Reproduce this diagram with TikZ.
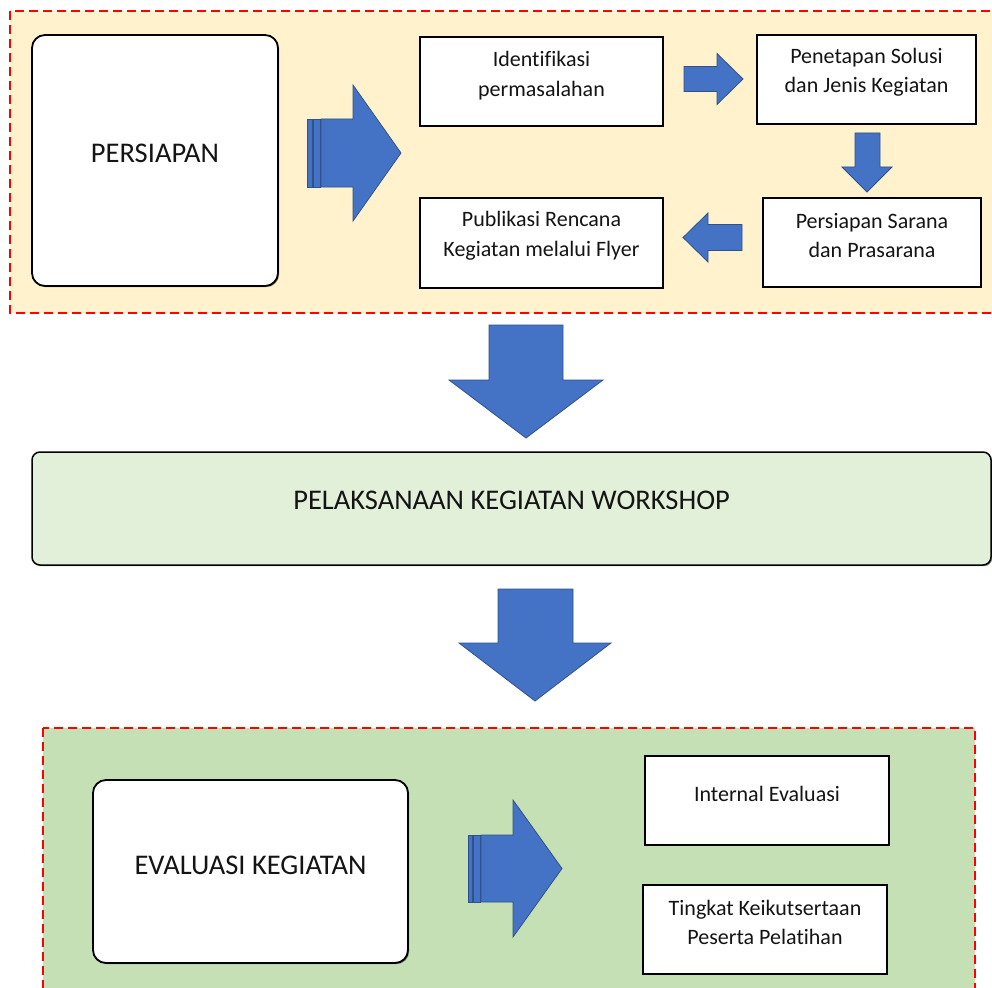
\documentclass[tikz,border=0pt]{standalone}
\usepackage{fontspec}
\setmainfont{Carlito}[Ligatures={NoCommon}]
\usetikzlibrary{shadows}
\definecolor{bfill}{HTML}{4472C4}
\definecolor{bline}{HTML}{2F528F}
\definecolor{orangebg}{HTML}{FFF2CC}
\definecolor{greenbg}{HTML}{C5E0B4}
\definecolor{lightgreen}{HTML}{E2F0D9}
\definecolor{txtc}{HTML}{141414}
\begin{document}
\begin{tikzpicture}[x=1pt,y=-1pt,
  region/.style={draw=red, line width=1.6pt, dash pattern=on 9pt off 5pt},
  box/.style={draw=black, line width=1.5pt, fill=white, inner sep=0pt, outer sep=0pt,
    drop shadow={shadow xshift=1.2pt, shadow yshift=-1.2pt, opacity=0.45, fill=black}},
  bigbox/.style={box, rounded corners=13pt, line width=1.8pt},
  smalltxt/.style={align=center, text=txtc, font=\fontsize{22}{29.5}\selectfont, inner sep=0pt},
  bigtxt/.style={align=center, text=txtc, font=\fontsize{28.5}{34}\selectfont, inner sep=0pt},
  barrow/.style={fill=bfill, draw=bline, line width=0.8pt, line join=miter}
]
\useasboundingbox (0,0) rectangle (992,987);
\clip (0,0) rectangle (992,987);
\fill[white] (0,0) rectangle (992,987);

% ---------- regions ----------
\path[region, fill=orangebg] (10,11) rectangle (1010,313);
\path[region, fill=greenbg] (43,728) rectangle (975,1010);

% ---------- PERSIAPAN section ----------
\node[bigbox, minimum width=246pt, minimum height=251pt] (persiapan) at (155,160.5) {};
\node[bigtxt] (persiapanT) at ([yshift=7pt]persiapan.center) {PERSIAPAN};

\node[box, minimum width=243pt, minimum height=89pt] (ident) at (541.5,81.5) {};
\node[smalltxt] (identT) at ([yshift=6pt]ident.center) {Identifikasi\\permasalahan};

\node[box, minimum width=219pt, minimum height=89pt] (penet) at (866.5,79.5) {};
\node[smalltxt] (penetT) at ([yshift=7pt]penet.center) {Penetapan Solusi\\dan Jenis Kegiatan};

\node[box, minimum width=218pt, minimum height=89pt] (sarana) at (872,242.5) {};
\node[smalltxt] (saranaT) at ([yshift=7pt]sarana.center) {Persiapan Sarana\\dan Prasarana};

\node[box, minimum width=243pt, minimum height=90pt] (publik) at (541.5,243) {};
\node[smalltxt] (publikT) at ([yshift=7pt]publik.center) {Publikasi Rencana\\Kegiatan melalui Flyer};

% big striped arrow (PERSIAPAN -> steps)
\filldraw[barrow] (307,119) rectangle (312.5,187);
\filldraw[barrow] (313.8,119) rectangle (320,187);
\filldraw[barrow] (321,119) -- (353,119) -- (353,85) -- (401,153) -- (353,221) -- (353,187) -- (321,187) -- cycle;

% small arrows between steps
\filldraw[barrow] (684,66.5) -- (717,66.5) -- (717,53.5) -- (743,79) -- (717,104.5) -- (717,91.5) -- (684,91.5) -- cycle;
\filldraw[barrow] (855,133) -- (880,133) -- (880,167) -- (892,167) -- (867,192) -- (842,167) -- (855,167) -- cycle;
\filldraw[barrow] (742,224.5) -- (708,224.5) -- (708,213) -- (683,237.5) -- (708,262) -- (708,250.5) -- (742,250.5) -- cycle;

% ---------- big down arrow 1 ----------
\filldraw[barrow] (489,325) -- (563,325) -- (563,380) -- (603,380) -- (526,438) -- (449,380) -- (489,380) -- cycle;

% ---------- PELAKSANAAN ----------
\node[box, fill=lightgreen, rounded corners=8pt, minimum width=959pt, minimum height=113pt] (pelaks) at (511.5,508.5) {};
\node[bigtxt] (pelaksT) at ([yshift=8pt]pelaks.center) {PELAKSANAAN KEGIATAN WORKSHOP};

% ---------- big down arrow 2 ----------
\filldraw[barrow] (498,589) -- (573,589) -- (573,643) -- (611,643) -- (535,701) -- (459,643) -- (498,643) -- cycle;

% ---------- EVALUASI section ----------
\node[bigbox, minimum width=315pt, minimum height=183pt] (eval) at (250.5,871.5) {};
\node[bigtxt] (evalT) at ([yshift=6pt]eval.center) {EVALUASI KEGIATAN};

\filldraw[barrow] (468,835) rectangle (472.3,902);
\filldraw[barrow] (473.5,835) rectangle (480,902);
\filldraw[barrow] (481,835) -- (513,835) -- (513,800) -- (562,868.5) -- (513,937) -- (513,902) -- (481,902) -- cycle;

\node[box, minimum width=244pt, minimum height=89pt] (internal) at (767,800.5) {};
\node[smalltxt] (internalT) at ([yshift=7pt]internal.center) {Internal Evaluasi};

\node[box, minimum width=244pt, minimum height=89pt] (tingkat) at (765,929.5) {};
\node[smalltxt] (tingkatT) at ([yshift=7pt]tingkat.center) {Tingkat Keikutsertaan\\Peserta Pelatihan};
\end{tikzpicture}
\end{document}
